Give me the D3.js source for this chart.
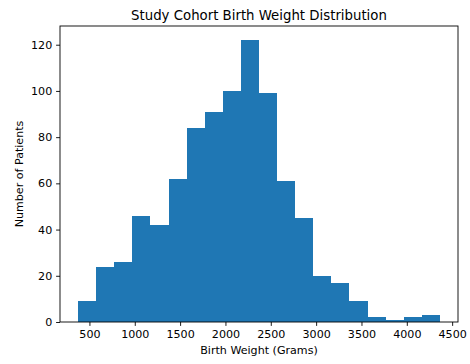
<!DOCTYPE html>
<html>
<head>
<meta charset="utf-8">
<script src="https://cdn.jsdelivr.net/npm/d3@7"></script>
<style>
  html, body { margin: 0; padding: 0; background: #fff; }
  svg { display: block; }
  text { font-family: "DejaVu Sans", sans-serif; fill: #000; }
</style>
</head>
<body>
<div id="chart"></div>
<script>
// Histogram of birth weights: 20 equal-width bins between the min and max weight
const binLow = 375;
const binHigh = 4365;
const counts = [9, 24, 26, 46, 42, 62, 84, 91, 100, 122, 99, 61, 45, 20, 17, 9, 2, 1, 2, 3];
const xTicks = [500, 1000, 1500, 2000, 2500, 3000, 3500, 4000, 4500];
const yTicks = [0, 20, 40, 60, 80, 100, 120];

const titleText = "Study Cohort Birth Weight Distribution";
const xLabel = "Birth Weight (Grams)";
const yLabel = "Number of Patients";

const W = 470, H = 364;
const margin = { left: 60, right: 12, top: 26, bottom: 42 };
const innerW = W - margin.left - margin.right;
const innerH = H - margin.top - margin.bottom;

const tickFont = 11.1;
const titleFont = 13.3;
const tickLen = 3.9;
const lineW = 0.9;

const binWidth = (binHigh - binLow) / counts.length;
const bins = counts.map((c, i) => ({
  x0: binLow + i * binWidth,
  x1: binLow + (i + 1) * binWidth,
  count: c
}));

// 5% padding on each side, like the default plot margins
const padX = (binHigh - binLow) * 0.05;
const x = d3.scaleLinear()
  .domain([binLow - padX, binHigh + padX])
  .range([margin.left, margin.left + innerW]);

const yMax = d3.max(counts) * 1.05;
const y = d3.scaleLinear()
  .domain([0, yMax])
  .range([margin.top + innerH, margin.top]);

const svg = d3.select("#chart").append("svg")
  .attr("width", W)
  .attr("height", H);

// Bars share edges exactly; crisp edges keep adjacent bins from showing seams
svg.append("g")
  .attr("shape-rendering", "crispEdges")
  .selectAll("rect")
  .data(bins)
  .join("rect")
  .attr("x", d => x(d.x0))
  .attr("width", d => x(d.x1) - x(d.x0))
  .attr("y", d => y(d.count))
  .attr("height", d => y(0) - y(d.count))
  .attr("fill", "#1f77b4");

// Frame
svg.append("rect")
  .attr("x", margin.left)
  .attr("y", margin.top)
  .attr("width", innerW)
  .attr("height", innerH)
  .attr("fill", "none")
  .attr("stroke", "#000")
  .attr("stroke-width", lineW);

const xAxis = svg.append("g")
  .attr("transform", `translate(0,${margin.top + innerH})`)
  .call(d3.axisBottom(x).tickValues(xTicks).tickSize(tickLen).tickPadding(tickLen).tickFormat(d3.format("d")));
const yAxis = svg.append("g")
  .attr("transform", `translate(${margin.left},0)`)
  .call(d3.axisLeft(y).tickValues(yTicks).tickSize(tickLen).tickPadding(tickLen).tickFormat(d3.format("d")));

[xAxis, yAxis].forEach(g => {
  g.select(".domain").remove();
  g.selectAll(".tick line").attr("stroke", "#000").attr("stroke-width", lineW);
  g.selectAll(".tick text")
    .attr("font-family", "DejaVu Sans, sans-serif")
    .attr("font-size", tickFont)
    .attr("fill", "#000");
});

svg.append("text")
  .attr("x", margin.left + innerW / 2)
  .attr("y", 19.5)
  .attr("text-anchor", "middle")
  .attr("font-size", titleFont)
  .text(titleText);

svg.append("text")
  .attr("x", margin.left + innerW / 2)
  .attr("y", 354)
  .attr("text-anchor", "middle")
  .attr("font-size", tickFont)
  .text(xLabel);

svg.append("text")
  .attr("transform", `translate(23,${margin.top + innerH / 2}) rotate(-90)`)
  .attr("text-anchor", "middle")
  .attr("font-size", tickFont)
  .text(yLabel);
</script>
</body>
</html>
